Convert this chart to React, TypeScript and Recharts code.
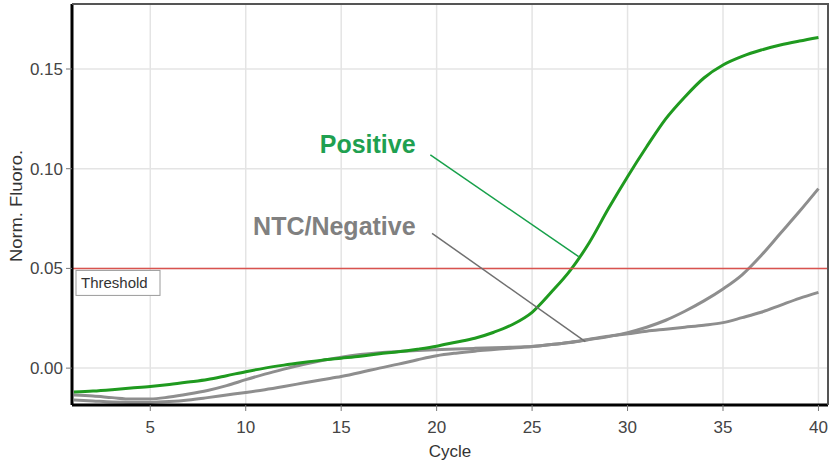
import { LineChart, Line, XAxis, YAxis, CartesianGrid, ReferenceLine, ReferenceDot } from "recharts";

const cycles = [
  1, 2, 3, 4, 5, 6, 7, 8, 9, 10, 11, 12, 13, 14, 15, 16, 17, 18, 19, 20,
  21, 22, 23, 24, 25, 26, 27, 28, 29, 30, 31, 32, 33, 34, 35, 36, 37, 38, 39, 40,
];

const positive = [
  -0.012, -0.0115, -0.0108, -0.01, -0.0092, -0.0082, -0.007, -0.0057, -0.0038, -0.0018,
  0.0, 0.0015, 0.0028, 0.004, 0.005, 0.006, 0.0072, 0.0082, 0.0095, 0.011,
  0.013, 0.015, 0.018, 0.022, 0.028, 0.038, 0.049, 0.063, 0.08, 0.096,
  0.111, 0.125, 0.136, 0.1455, 0.152, 0.1563, 0.1595, 0.162, 0.164, 0.1658,
];

const negativeA = [
  -0.016, -0.0165, -0.017, -0.0172, -0.0172, -0.0168, -0.016, -0.0148, -0.0135, -0.0122,
  -0.0108, -0.0092, -0.0075, -0.0058, -0.0042, -0.0022, 0.0, 0.002, 0.0042, 0.0062,
  0.0075, 0.0085, 0.0093, 0.0101, 0.0108, 0.0118, 0.0128, 0.0143, 0.0158, 0.0178,
  0.0205, 0.024, 0.0285, 0.0337, 0.0397, 0.0468, 0.0565, 0.0675, 0.0785, 0.09,
];

const negativeB = [
  -0.0135, -0.014, -0.0148, -0.0155, -0.0155, -0.0145, -0.013, -0.0112, -0.0088, -0.0058,
  -0.003, -0.0005, 0.0018, 0.0038, 0.0055, 0.0068, 0.0077, 0.0083, 0.0088, 0.0092,
  0.0096, 0.0099, 0.0102, 0.0105, 0.0108, 0.0118, 0.013, 0.0145, 0.016, 0.0172,
  0.0185, 0.0195, 0.0205, 0.0215, 0.0228, 0.0253, 0.028, 0.0315, 0.035, 0.038,
];

const xTicks = [5, 10, 15, 20, 25, 30, 35, 40];
const yTicks = [0, 0.05, 0.1, 0.15];
const xDomain = [0.9, 40.5];
const yDomain = [-0.0185, 0.1826];
const threshold = 0.05;

const data = cycles.map((c, i) => ({
  cycle: c,
  positive: positive[i],
  negA: negativeA[i],
  negB: negativeB[i],
}));

const font = "Arial, 'Liberation Sans', sans-serif";

const margin = { top: 4, right: 3, left: 0, bottom: 0 };
const yAxisWidth = 72;
const xAxisHeight = 57;

function ThresholdLabel(props: any) {
  const { viewBox } = props;
  const x = viewBox.x + 4;
  const y = viewBox.y + 2;
  return (
    <g>
      <rect x={x} y={y} width={84} height={25} fill="#fff" stroke="#9a9a9a" strokeWidth={1} />
      <text x={x + 5} y={y + 18} fontSize={15} fontFamily={font} fill="#333">
        Threshold
      </text>
    </g>
  );
}

function YTitle() {
  const cy = 206;
  const cx = 16;
  return (
    <text
      x={cx}
      y={cy}
      transform={`rotate(-90 ${cx} ${cy})`}
      textAnchor="middle"
      dominantBaseline="central"
      fontSize={17}
      fontFamily={font}
      fill="#333"
      textLength={112}
      lengthAdjust="spacingAndGlyphs"
    >
      Norm. Fluoro.
    </text>
  );
}

export default function App() {
  const W = 831;
  const H = 462;
  return (
    <div style={{ position: "absolute", left: 0, top: 0, background: "#fff", width: W, height: H }}>
      <LineChart width={W} height={H} data={data} margin={margin}>
        <CartesianGrid stroke="#e4e4e4" strokeWidth={1.5} />
        <XAxis
          dataKey="cycle"
          type="number"
          domain={xDomain}
          ticks={xTicks}
          allowDataOverflow
          height={xAxisHeight}
          axisLine={{ stroke: "#000", strokeWidth: 3 }}
          tickLine={{ stroke: "#777" }}
          tickSize={6}
          tickMargin={10}
          tick={{ fontSize: 17, fill: "#444", fontFamily: font }}
          label={{ value: "Cycle", position: "insideBottom", offset: 5, fontSize: 17, fill: "#333", fontFamily: font }}
        />
        <YAxis
          type="number"
          domain={yDomain}
          ticks={yTicks}
          allowDataOverflow
          width={yAxisWidth}
          axisLine={{ stroke: "#000", strokeWidth: 3 }}
          tickLine={{ stroke: "#777" }}
          tickSize={6}
          tickMargin={3}
          tickFormatter={(v: number) => v.toFixed(2)}
          tick={{ fontSize: 17, fill: "#444", fontFamily: font }}
          label={<YTitle />}
        />
        <Line type="monotone" dataKey="negA" stroke="#8e8e8e" strokeWidth={3} dot={false} isAnimationActive={false} />
        <Line type="monotone" dataKey="negB" stroke="#8e8e8e" strokeWidth={3} dot={false} isAnimationActive={false} />
        <Line type="monotone" dataKey="positive" stroke="#1f9a1f" strokeWidth={3} dot={false} isAnimationActive={false} />
        <ReferenceLine y={threshold} stroke="#d9534f" strokeWidth={1.5} label={<ThresholdLabel />} />
        <ReferenceLine
          segment={[{ x: 19.67, y: 0.1069 }, { x: 27.44, y: 0.0559 }]}
          stroke="#17a04a"
          strokeWidth={1.5}
          ifOverflow="visible"
        />
        <ReferenceLine
          segment={[{ x: 19.76, y: 0.0676 }, { x: 27.79, y: 0.0133 }]}
          stroke="#707070"
          strokeWidth={1.5}
          ifOverflow="visible"
        />
        <ReferenceDot
          x={18.9}
          y={0.1123}
          r={0}
          ifOverflow="visible"
          label={{ value: "Positive", position: "left", offset: 0, fontSize: 25, fontWeight: "bold", fill: "#1fa050", fontFamily: font }}
        />
        <ReferenceDot
          x={18.9}
          y={0.0713}
          r={0}
          ifOverflow="visible"
          label={{ value: "NTC/Negative", position: "left", offset: 0, fontSize: 25, fontWeight: "bold", fill: "#808080", fontFamily: font }}
        />
      </LineChart>
      {/* thin frame on the top and right of the plot area */}
      <div
        style={{
          position: "absolute",
          pointerEvents: "none",
          boxSizing: "border-box",
          left: margin.left + yAxisWidth,
          top: margin.top - 1,
          width: W - margin.left - margin.right - yAxisWidth + 1,
          height: H - margin.top - margin.bottom - xAxisHeight + 1,
          borderTop: "2px solid #555",
          borderRight: "2px solid #555",
        }}
      />
    </div>
  );
}
